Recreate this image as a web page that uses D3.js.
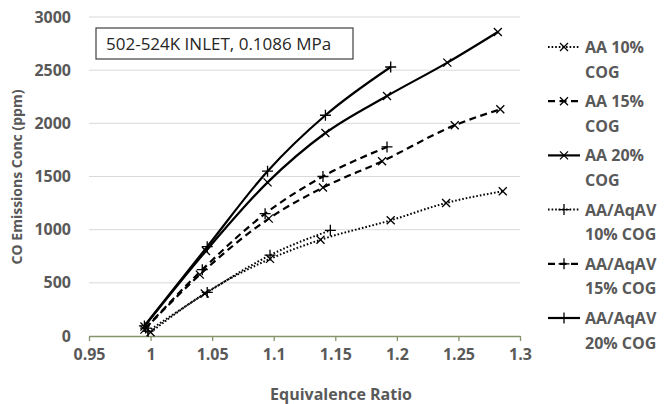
<!DOCTYPE html>
<html>
<head>
<meta charset="utf-8">
<script src="https://cdn.jsdelivr.net/npm/d3@7"></script>
<style>
  body { margin: 0; background: #fff; }
  svg { display: block; font-family: "Open Sans", sans-serif; }
</style>
</head>
<body>
<div id="graph"></div>
<script>
// series data
var seriesNames = ["AA 10%|COG", "AA 15%|COG", "AA 20%|COG", "AA/AqAV|10% COG", "AA/AqAV|15% COG", "AA/AqAV|20% COG"];
var seriesDash = ["dot", "dash", "solid", "dot", "dash", "solid"];
var seriesMarker = ["x", "x", "x", "+", "+", "+"];

var xAA10 = [1.0, 1.044, 1.097, 1.138, 1.195, 1.240, 1.286];
var yAA10 = [35, 400, 725, 905, 1088, 1251, 1361];
var xAA15 = [0.995, 1.040, 1.096, 1.140, 1.188, 1.247, 1.284];
var yAA15 = [60, 577, 1104, 1396, 1643, 1982, 2132];
var xAA20 = [0.995, 1.045, 1.095, 1.142, 1.192, 1.241, 1.282];
var yAA20 = [90, 800, 1445, 1909, 2257, 2571, 2859];
var xAq10 = [0.998, 1.046, 1.097, 1.146];
var yAq10 = [45, 410, 760, 994];
var xAq15 = [0.996, 1.042, 1.093, 1.140, 1.192];
var yAq15 = [75, 624, 1150, 1500, 1778];
var xAq20 = [0.995, 1.046, 1.095, 1.142, 1.195];
var yAq20 = [95, 840, 1550, 2076, 2530];

var xTicks = [0.95, 1, 1.05, 1.1, 1.15, 1.2, 1.25, 1.3];
var yTicks = [0, 500, 1000, 1500, 2000, 2500, 3000];

var xs = [xAA10, xAA15, xAA20, xAq10, xAq15, xAq20];
var ys = [yAA10, yAA15, yAA20, yAq10, yAq15, yAq20];

var series = seriesNames.map(function(name, i) {
  return {
    name: name,
    dash: seriesDash[i],
    marker: seriesMarker[i],
    points: xs[i].map(function(x, j) { return {x: x, y: ys[i][j]}; })
  };
});

var W = 665, H = 404;
var margin = {top: 17, right: 145, bottom: 68, left: 89};

var svg = d3.select("#graph").append("svg").attr("width", W).attr("height", H);

var xScale = d3.scaleLinear().domain([0.95, 1.3]).range([margin.left, W - margin.right]);
var yScale = d3.scaleLinear().domain([0, 3000]).range([H - margin.bottom, margin.top]);

var textCol = "#595959";
var dashes = {dot: "1.6,2", dash: "7,4.5", solid: null};

// gridlines
svg.append("g")
  .selectAll("line")
  .data(yTicks.filter(function(d) { return d > 0; }))
  .enter().append("line")
    .attr("x1", xScale(0.95)).attr("x2", xScale(1.3))
    .attr("y1", function(d) { return yScale(d); })
    .attr("y2", function(d) { return yScale(d); })
    .attr("stroke", "#d9d9d9").attr("stroke-width", 1);

// y axis (labels only)
var gY = svg.append("g")
  .attr("transform", "translate(" + margin.left + ",0)")
  .call(d3.axisLeft(yScale).tickValues(yTicks).tickSize(0).tickPadding(18).tickFormat(d3.format("d")));
gY.select(".domain").remove();
gY.selectAll("text")
  .attr("fill", textCol).style("font-size", "16px").style("font-weight", "700")
  .style("font-family", "'Open Sans', sans-serif");

// x axis
var gX = svg.append("g")
  .attr("transform", "translate(0," + yScale(0) + ")")
  .call(d3.axisBottom(xScale).tickValues(xTicks).tickSize(5).tickSizeOuter(0).tickPadding(8)
    .tickFormat(function(d) { return String(+d.toFixed(2)); }));
gX.select(".domain").attr("stroke", "#86946c").attr("stroke-width", 1.3);
gX.selectAll(".tick line").attr("stroke", "#86946c").attr("stroke-width", 1.3);
gX.selectAll("text")
  .attr("fill", textCol).style("font-size", "16px").style("font-weight", "700")
  .style("font-family", "'Open Sans', sans-serif");

// axis titles
svg.append("text")
  .attr("transform", "translate(22," + 177 + ") rotate(-90)")
  .attr("text-anchor", "middle")
  .attr("fill", textCol).style("font-size", "14px").style("font-weight", "700")
  .text("CO Emissions Conc (ppm)");

svg.append("text")
  .attr("x", 341).attr("y", 400)
  .attr("text-anchor", "middle")
  .attr("fill", textCol).style("font-size", "16px").style("font-weight", "700")
  .text("Equivalence Ratio");

// lines
var line = d3.line()
  .x(function(d) { return xScale(d.x); })
  .y(function(d) { return yScale(d.y); })
  .curve(d3.curveMonotoneX);

function drawMarker(g, type, cx, cy) {
  var s = type == "x" ? 4 : 5.5;
  if (type == "x") {
    g.append("path").attr("d", "M" + (cx - s) + "," + (cy - s) + "L" + (cx + s) + "," + (cy + s) +
      "M" + (cx - s) + "," + (cy + s) + "L" + (cx + s) + "," + (cy - s));
  } else {
    g.append("path").attr("d", "M" + (cx - s) + "," + cy + "L" + (cx + s) + "," + cy +
      "M" + cx + "," + (cy - s) + "L" + cx + "," + (cy + s));
  }
}

series.forEach(function(s) {
  svg.append("path")
    .datum(s.points)
    .attr("d", line)
    .attr("fill", "none")
    .attr("stroke", "#000")
    .attr("stroke-width", s.dash == "dot" ? 2 : 2.2)
    .attr("stroke-dasharray", dashes[s.dash]);
  var gm = svg.append("g").attr("stroke", "#000").attr("stroke-width", 1.3).attr("fill", "none");
  s.points.forEach(function(p) { drawMarker(gm, s.marker, xScale(p.x), yScale(p.y)); });
});

// annotation box
svg.append("rect")
  .attr("x", 96).attr("y", 28).attr("width", 257).attr("height", 31)
  .attr("fill", "#fff").attr("stroke", "#404040").attr("stroke-width", 1.2);
svg.append("text")
  .attr("x", 106).attr("y", 50)
  .attr("fill", "#262626").style("font-size", "17px")
  .text("502-524K INLET, 0.1086 MPa");

// legend
var legend = svg.append("g").attr("transform", "translate(548,47)");
series.forEach(function(s, i) {
  var g = legend.append("g").attr("transform", "translate(0," + (i * 54.2) + ")");
  g.append("line")
    .attr("x1", 0).attr("x2", 32).attr("y1", 0).attr("y2", 0)
    .attr("stroke", "#000").attr("stroke-width", s.dash == "dot" ? 2 : 2.2)
    .attr("stroke-dasharray", dashes[s.dash]);
  var gm = g.append("g").attr("stroke", "#000").attr("stroke-width", 1.3).attr("fill", "none");
  drawMarker(gm, s.marker, 16, 0);
  var parts = s.name.split("|");
  parts.forEach(function(t, k) {
    g.append("text")
      .attr("x", 37).attr("y", k * 24.5 + 6)
      .attr("fill", textCol).style("font-size", "16px").style("font-weight", "700")
      .text(t);
  });
});
</script>
</body>
</html>
